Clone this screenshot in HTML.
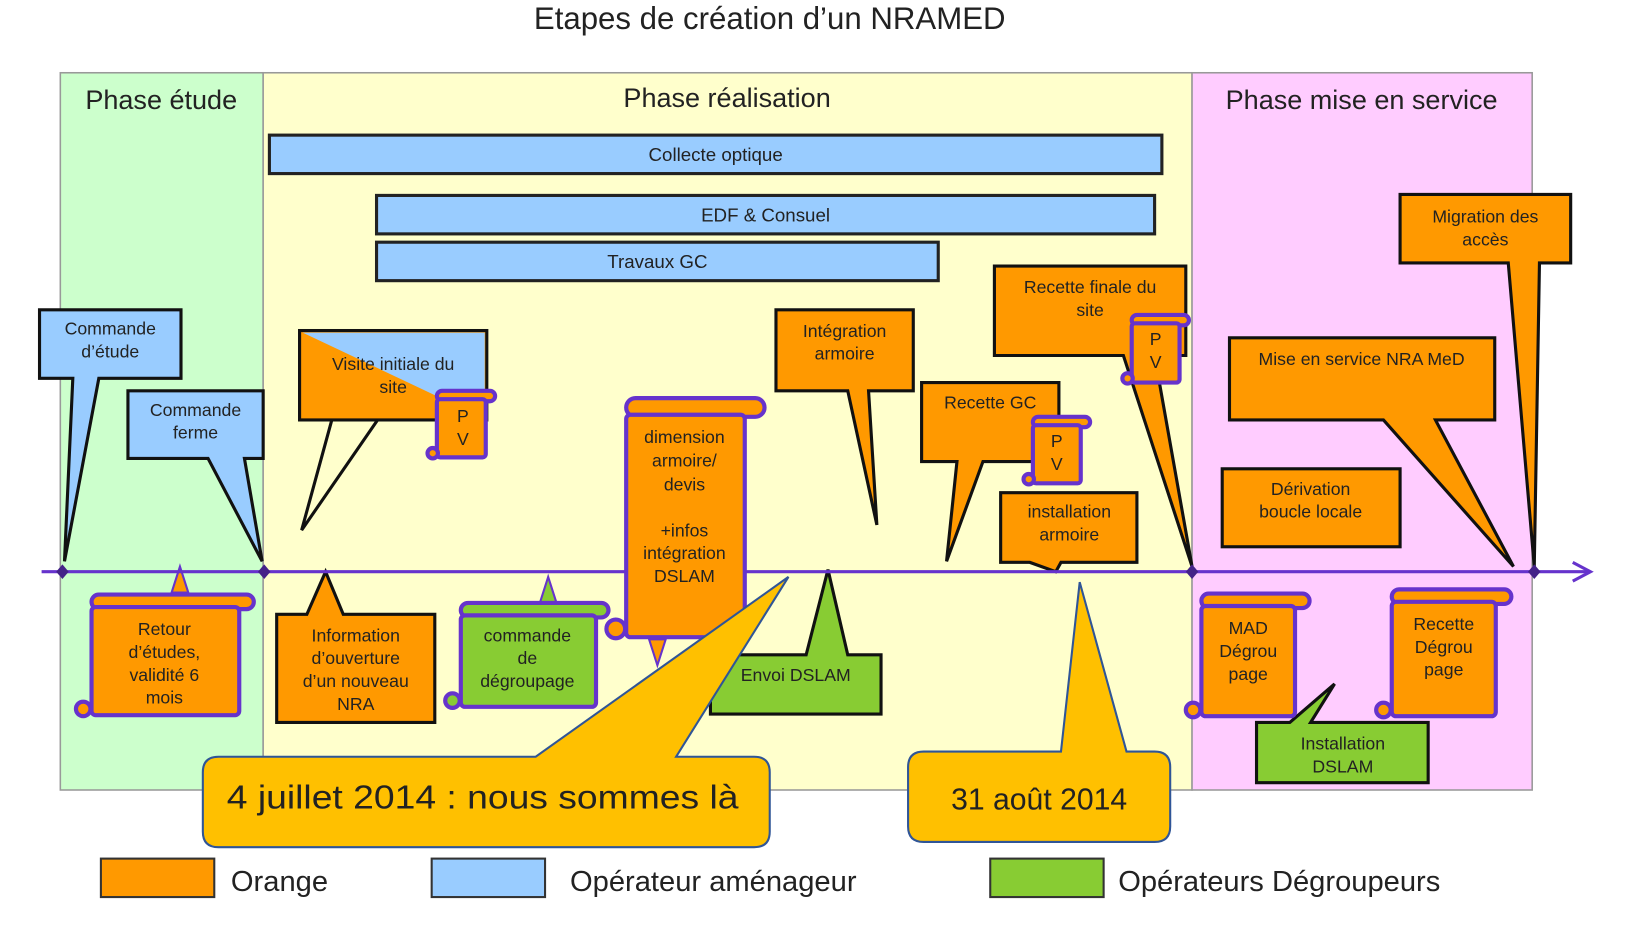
<!DOCTYPE html>
<html><head><meta charset="utf-8"><style>
html,body{margin:0;padding:0;background:#fff;}
svg{display:block;}
text{font-family:"Liberation Sans",sans-serif;fill:#222;}
</style></head><body>
<svg width="1631" height="948" viewBox="0 0 1568 912" preserveAspectRatio="none" xmlns="http://www.w3.org/2000/svg">
<rect width="1568" height="912" fill="#fff"/>
<text x="740" y="28" font-size="30" text-anchor="middle" fill="#333">Etapes de création d’un NRAMED</text>
<!-- panels -->
<rect x="58" y="70" width="195" height="690" fill="#ccffcc" stroke="#999" stroke-width="1.5"/>
<rect x="253" y="70" width="893" height="690" fill="#ffffcc" stroke="#999" stroke-width="1.5"/>
<rect x="1146" y="70" width="327" height="690" fill="#ffccff" stroke="#999" stroke-width="1.5"/>
<text x="155" y="105" font-size="26" text-anchor="middle">Phase étude</text>
<text x="699" y="103" font-size="26" text-anchor="middle">Phase réalisation</text>
<text x="1309" y="105" font-size="26" text-anchor="middle">Phase mise en service</text>
<!-- bars -->
<g stroke="#222" stroke-width="3" fill="#99ccff">
<rect x="259" y="130" width="858" height="37"/>
<rect x="362" y="188" width="748" height="37"/>
<rect x="362" y="233" width="540" height="37"/>
</g>
<g font-size="18" text-anchor="middle">
<text x="688" y="155">Collecte optique</text>
<text x="736" y="213">EDF &amp; Consuel</text>
<text x="632" y="258">Travaux GC</text>
</g>
<!-- callouts above -->
<g stroke="#111" stroke-width="3" stroke-linejoin="miter">
<path d="M38,298 H174 V364 H95 L62,540 L70,364 H38 Z" fill="#99ccff"/>
<path d="M123,376 H253 V441 H235 L252,540 L200,441 H123 Z" fill="#99ccff"/>
<rect x="288" y="318" width="180" height="86" fill="#ff9900"/>
<polyline points="319,404 290,510 363,404" fill="none"/>
<path d="M746,298 H878 V376 H835 L843,505 L815,376 H746 Z" fill="#ff9900"/>
<path d="M886,368 H1018 V444 H945 L910,540 L920,444 H886 Z" fill="#ff9900"/>
<path d="M956,256 H1140 V342 H1110 L1146,545 L1080,342 H956 Z" fill="#ff9900"/>
<path d="M962,474 H1093 V541 H1020 L1015,550 L990,541 H962 Z" fill="#ff9900"/>
<path d="M1346,187 H1510 V253 H1480 L1475,545 L1450,253 H1346 Z" fill="#ff9900"/>
<path d="M1182,325 H1437 V404 H1380 L1455,545 L1330,404 H1182 Z" fill="#ff9900"/>
<rect x="1175" y="451" width="171" height="75" fill="#ff9900"/>
</g>
<polygon points="291,320 466,320 466,387 424,383" fill="#99ccff"/>
<!-- below axis callouts -->
<g stroke="#111" stroke-width="3">
<path d="M266,591 H295 L313,550 L330,591 H418 V695 H266 Z" fill="#ff9900"/>
<path d="M683,630 H775 L796,548 L815,630 H847 V687 H683 Z" fill="#88cc33"/>
<path d="M1208,695 H1240 L1283,658 L1260,695 H1373 V753 H1208 Z" fill="#88cc33"/>
</g>
<!-- small triangles -->
<polygon points="165,570 173,545 181,570" fill="#ff9900" stroke="#6633cc" stroke-width="2"/>
<polygon points="519,580 527,555 535,580" fill="#88cc33" stroke="#6633cc" stroke-width="2"/>
<polygon points="624,615 640,615 632,640" fill="#ff9900" stroke="#6633cc" stroke-width="2"/>
<!-- axis -->
<line x1="40" y1="550" x2="1528" y2="550" stroke="#6633cc" stroke-width="3"/>
<polyline points="1512,541 1529,550 1512,559" fill="none" stroke="#6633cc" stroke-width="3"/>
<g fill="#442288">
<polygon points="60,543 66,550 60,557 54,550"/><polygon points="254,543 260,550 254,557 248,550"/>
<polygon points="1146,543 1152,550 1146,557 1140,550"/><polygon points="1475,543 1481,550 1475,557 1469,550"/>
</g>
<!-- scrolls -->
<g stroke="#6633cc" stroke-width="4">
<rect x="88" y="572" width="156" height="14" rx="7" fill="#ff9900"/>
<rect x="88" y="584" width="142" height="104" rx="4" fill="#ff9900"/>
<circle cx="80" cy="682" r="7" fill="#ff9900"/>
<rect x="443" y="580" width="142" height="14" rx="7" fill="#88cc33"/>
<rect x="443" y="592" width="130" height="88" rx="4" fill="#88cc33"/>
<circle cx="435" cy="674" r="7" fill="#88cc33"/>
<rect x="602" y="383" width="133" height="18" rx="9" fill="#ff9900"/>
<rect x="602" y="399" width="114" height="214" rx="4" fill="#ff9900"/>
<circle cx="592" cy="605" r="9" fill="#ff9900"/>
<rect x="1155" y="571" width="104" height="14" rx="7" fill="#ff9900"/>
<rect x="1155" y="583" width="90" height="106" rx="4" fill="#ff9900"/>
<circle cx="1147" cy="683" r="7" fill="#ff9900"/>
<rect x="1338" y="567" width="115" height="14" rx="7" fill="#ff9900"/>
<rect x="1338" y="579" width="100" height="110" rx="4" fill="#ff9900"/>
<circle cx="1330" cy="683" r="7" fill="#ff9900"/>
<rect x="420" y="376" width="56" height="10" rx="5" fill="#ff9900"/>
<rect x="420" y="384" width="47" height="56" rx="3" fill="#ff9900"/>
<circle cx="416" cy="436" r="5" fill="#ff9900"/>
<rect x="993" y="401" width="55" height="10" rx="5" fill="#ff9900"/>
<rect x="993" y="409" width="46" height="56" rx="3" fill="#ff9900"/>
<circle cx="989" cy="461" r="5" fill="#ff9900"/>
<rect x="1088" y="303" width="55" height="10" rx="5" fill="#ff9900"/>
<rect x="1088" y="311" width="46" height="57" rx="3" fill="#ff9900"/>
<circle cx="1084" cy="364" r="5" fill="#ff9900"/>
</g>
<!-- texts in boxes -->
<g font-size="17" text-anchor="middle">
<text x="106" y="322">Commande</text><text x="106" y="344">d’étude</text>
<text x="188" y="400">Commande</text><text x="188" y="422">ferme</text>
<text x="378" y="356">Visite initiale du</text><text x="378" y="378">site</text>
<text x="812" y="324">Intégration</text><text x="812" y="346">armoire</text>
<text x="952" y="393">Recette GC</text>
<text x="1048" y="282">Recette finale du</text><text x="1048" y="304">site</text>
<text x="1028" y="498">installation</text><text x="1028" y="520">armoire</text>
<text x="1428" y="214">Migration des</text><text x="1428" y="236">accès</text>
<text x="1309" y="351">Mise en service NRA MeD</text>
<text x="1260" y="476">Dérivation</text><text x="1260" y="498">boucle locale</text>
<text x="658" y="426">dimension</text><text x="658" y="449">armoire/</text><text x="658" y="472">devis</text>
<text x="658" y="516">+infos</text><text x="658" y="538">intégration</text><text x="658" y="560">DSLAM</text>
<text x="158" y="611">Retour</text><text x="158" y="633">d’études,</text><text x="158" y="655">validité 6</text><text x="158" y="677">mois</text>
<text x="342" y="617">Information</text><text x="342" y="639">d’ouverture</text><text x="342" y="661">d’un nouveau</text><text x="342" y="683">NRA</text>
<text x="507" y="617">commande</text><text x="507" y="639">de</text><text x="507" y="661">dégroupage</text>
<text x="765" y="655">Envoi DSLAM</text>
<text x="1200" y="610">MAD</text><text x="1200" y="632">Dégrou</text><text x="1200" y="654">page</text>
<text x="1388" y="606">Recette</text><text x="1388" y="628">Dégrou</text><text x="1388" y="650">page</text>
<text x="1291" y="721">Installation</text><text x="1291" y="743">DSLAM</text>
<text x="445" y="406">P</text><text x="445" y="428">V</text>
<text x="1016" y="430">P</text><text x="1016" y="452">V</text>
<text x="1111" y="332">P</text><text x="1111" y="354">V</text>
</g>
<!-- yellow callouts -->
<g fill="#ffc000" stroke="#2f5597" stroke-width="2">
<path d="M210,728 H515 L758,555 L650,728 H725 Q740,728 740,743 V800 Q740,815 725,815 H210 Q195,815 195,800 V743 Q195,728 210,728 Z"/>
<path d="M888,723 H1020 L1038,560 L1083,723 H1110 Q1125,723 1125,738 V795 Q1125,810 1110,810 H888 Q873,810 873,795 V738 Q873,723 888,723 Z"/>
</g>
<text x="218" y="778" font-size="32" fill="#111" textLength="492" lengthAdjust="spacingAndGlyphs">4 juillet 2014 : nous sommes là</text>
<text x="999" y="779" font-size="29" fill="#111" text-anchor="middle">31 août 2014</text>
<!-- legend -->
<g stroke="#333" stroke-width="2">
<rect x="97" y="826" width="109" height="37" fill="#ff9900"/>
<rect x="415" y="826" width="109" height="37" fill="#99ccff"/>
<rect x="952" y="826" width="109" height="37" fill="#88cc33"/>
</g>
<g font-size="28" fill="#333">
<text x="222" y="857">Orange</text>
<text x="548" y="857">Opérateur aménageur</text>
<text x="1075" y="857">Opérateurs Dégroupeurs</text>
</g>
</svg>
</body></html>
